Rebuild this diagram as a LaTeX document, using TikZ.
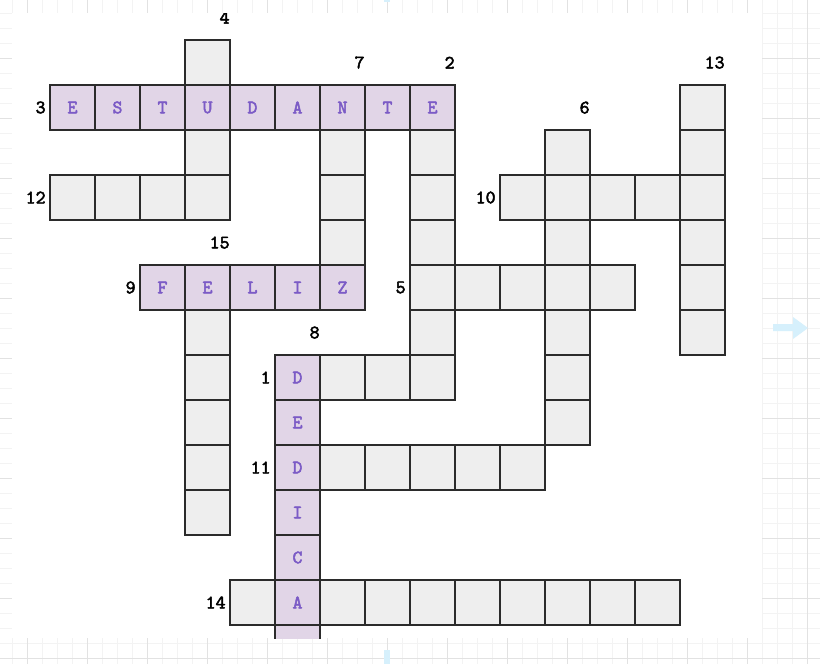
\documentclass[tikz,border=0pt]{standalone}
\usepackage{fontspec}
\usetikzlibrary{positioning}
\newfontfamily\cellfont{lmmono10-regular}[Extension=.otf, FakeBold=2.5]
\definecolor{cellgray}{HTML}{EEEEEE}
\definecolor{cellline}{HTML}{2B2B2B}
\definecolor{hintfill}{HTML}{E1D5E7}
\definecolor{hintletter}{HTML}{7B5BC6}
\definecolor{gridminor}{HTML}{F3F3F3}
\definecolor{gridmajor}{HTML}{E2E2E2}
\definecolor{hoverblue}{HTML}{D6F0FC}
\tikzset{
  cell/.style={draw=cellline, fill=cellgray, line width=0.8pt, minimum size=22.5pt, inner sep=0pt, outer sep=0pt},
  hint/.style={cell, fill=hintfill, text=hintletter, font=\cellfont\fontsize{9.5}{9.5}\selectfont},
  num/.style={inner sep=0pt, font=\cellfont\fontsize{9.5}{9.5}\selectfont},
}
\begin{document}
\begin{tikzpicture}[x=0.5pt,y=-0.5pt]
\useasboundingbox (0,0) rectangle (820,664);
\fill[white] (0,0) rectangle (820,664);
\foreach \x in {12,27,...,820} \draw[gridminor, line width=0.5pt] (\x,0) -- (\x,664);
\foreach \y in {13,28,...,664} \draw[gridminor, line width=0.5pt] (0,\y) -- (820,\y);
\foreach \x in {27,87,...,820} \draw[gridmajor, line width=0.5pt] (\x,0) -- (\x,664);
\foreach \y in {58,118,...,664} \draw[gridmajor, line width=0.5pt] (0,\y) -- (820,\y);
\fill[white] (12,13) rectangle (762,638);
\fill[hoverblue] (773,324) -- (793,324) -- (793,317) -- (808,328) -- (793,339) -- (793,331) -- (773,331) -- cycle;
\fill[hoverblue] (384,650) rectangle (390,664);
\fill[hoverblue] (384,0) rectangle (390,2);
\begin{scope}
\clip (12,13) rectangle (762,638);
\begin{scope}[shift={(72.5,62.5)}, x=22.5pt, y=-22.5pt]
\foreach \i in {0,...,3} \node[cell] (d4-\i) at (3,\i) {};
\foreach \i in {0,...,3} \node[cell] (a12-\i) at (\i,3) {};
\foreach \i in {0,...,4} \node[cell] (d7-\i) at (6,1+\i) {};
\foreach \i in {0,...,6} \node[cell] (d2-\i) at (8,1+\i) {};
\foreach \i in {0,...,4} \node[cell] (a5-\i) at (8+\i,5) {};
\foreach \i in {0,...,6} \node[cell] (d6-\i) at (11,2+\i) {};
\foreach \i in {0,...,4} \node[cell] (a10-\i) at (10+\i,3) {};
\foreach \i in {0,...,5} \node[cell] (d13-\i) at (14,1+\i) {};
\foreach \i in {0,...,5} \node[cell] (d15-\i) at (3,5+\i) {};
\foreach \i in {0,...,3} \node[cell] (a1-\i) at (5+\i,7) {};
\foreach \i in {0,...,5} \node[cell] (a11-\i) at (5+\i,9) {};
\foreach \i in {0,...,9} \node[cell] (a14-\i) at (4+\i,12) {};
\foreach \ch [count=\i from 0] in {E,S,T,U,D,A,N,T,E} \node[hint] (a3-\i) at (\i,1) {\ch};
\foreach \ch [count=\i from 0] in {F,E,L,I,Z} \node[hint] (a9-\i) at (2+\i,5) {\ch};
\foreach \ch [count=\i from 0] in {D,E,D,I,C,A} \node[hint] (d8-\i) at (5,7+\i) {\ch};
\node[hint] (d8-6) at (5,13) {};
\node[num, left=2pt of a3-0] (n3) {3};
\node[num, left=2pt of a12-0] (n12) {12};
\node[num, left=2pt of a10-0] (n10) {10};
\node[num, left=2pt of a9-0] (n9) {9};
\node[num, left=2pt of a5-0] (n5) {5};
\node[num, left=2pt of a1-0] (n1) {1};
\node[num, left=2pt of a11-0] (n11) {11};
\node[num, left=2pt of a14-0] (n14) {14};
\node[num, above=8pt of d4-0.north east, anchor=south east] (n4) {4};
\node[num, above=8pt of d7-0.north east, anchor=south east] (n7) {7};
\node[num, above=8pt of d2-0.north east, anchor=south east] (n2) {2};
\node[num, above=8pt of d13-0.north east, anchor=south east] (n13) {13};
\node[num, above=8pt of d6-0.north east, anchor=south east] (n6) {6};
\node[num, above=8pt of d15-0.north east, anchor=south east] (n15) {15};
\node[num, above=8pt of d8-0.north east, anchor=south east] (n8) {8};
\end{scope}
\end{scope}
\end{tikzpicture}
\end{document}
